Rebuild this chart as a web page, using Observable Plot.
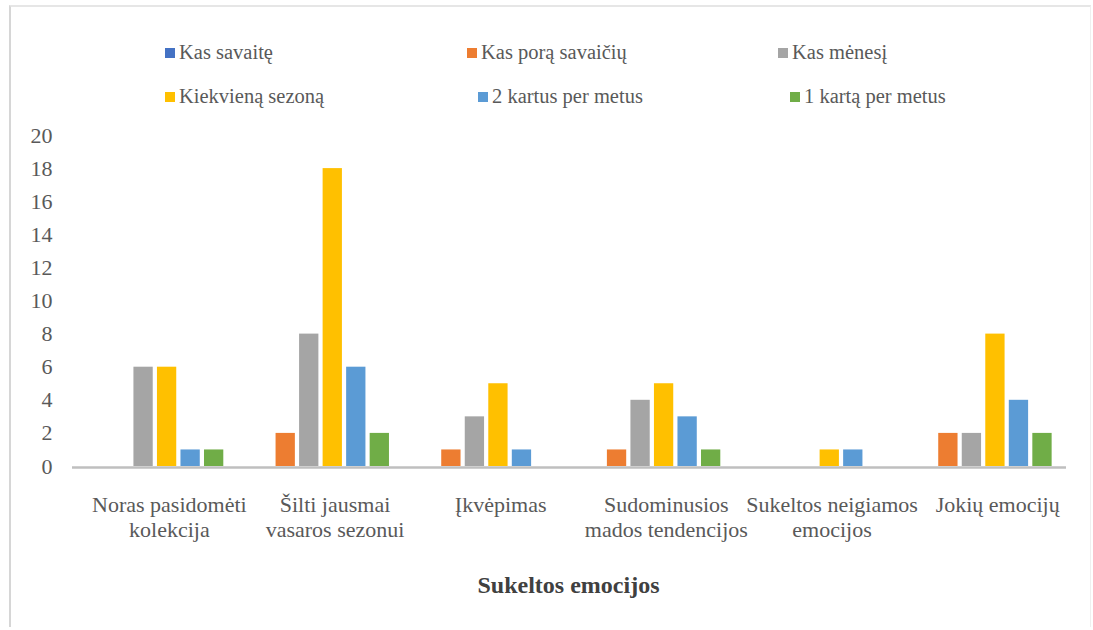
<!DOCTYPE html>
<html>
<head>
<meta charset="utf-8">
<script src="https://cdn.jsdelivr.net/npm/d3@7"></script>
<script src="https://cdn.jsdelivr.net/npm/@observablehq/plot@0.6"></script>
<style>
  html, body { margin: 0; padding: 0; background: #fff; }
  #chart {
    position: relative; width: 1093px; height: 630px; overflow: hidden;
    font-family: "Liberation Serif", Tinos, "Times New Roman", Times, serif; color: #595959;
  }
  #frame {
    position: absolute; left: 9px; top: 5px; width: 1082px; height: 622px;
    border-left: 2px solid #d6d6d6; border-top: 2px solid #e6e6e6;
    border-right: 1px solid #efefef; box-sizing: border-box;
  }
  .lg { position: absolute; display: flex; align-items: center; font-size: 20.5px; white-space: nowrap; }
  .lg span.sw { display: inline-block; width: 10px; height: 10px; margin-right: 4px; }
  #plot { position: absolute; left: 0; top: 110px; }
  #xtitle {
    position: absolute; top: 572px; left: 0; width: 1137px; text-align: center;
    font-size: 24px; font-weight: bold; color: #404040;
  }
</style>
</head>
<body>
<div id="chart">
  <div id="frame"></div>
  <div id="legend"></div>
  <div id="plot"></div>
  <div id="xtitle"></div>
</div>
<script>
// Categories on the x axis (emotions evoked) and their wrapped tick labels
const categories = [
  "Noras pasidomėti kolekcija",
  "Šilti jausmai vasaros sezonui",
  "Įkvėpimas",
  "Sudominusios mados tendencijos",
  "Sukeltos neigiamos emocijos",
  "Jokių emocijų"
];
const categoryLabels = [
  "Noras pasidomėti\nkolekcija",
  "Šilti jausmai\nvasaros sezonui",
  "Įkvėpimas",
  "Sudominusios\nmados tendencijos",
  "Sukeltos neigiamos\nemocijos",
  "Jokių emocijų"
];

// Series (how often) and their colours
const series = [
  "Kas savaitę",
  "Kas porą savaičių",
  "Kas mėnesį",
  "Kiekvieną sezoną",
  "2 kartus per metus",
  "1 kartą per metus"
];
const seriesColors = ["#4472C4", "#ED7D31", "#A5A5A5", "#FFC000", "#5B9BD5", "#70AD47"];

// Counts per series, one value per category
const kasSavaite       = [0, 0, 0, 0, 0, 0];
const kasPoraSavaiciu  = [0, 2, 1, 1, 0, 2];
const kasMenesi        = [6, 8, 3, 4, 0, 2];
const kiekvienaSezona  = [6, 18, 5, 5, 1, 8];
const duKartusPerMetus = [1, 6, 1, 3, 1, 4];
const vienaKartaPerMetus = [1, 2, 0, 1, 0, 2];
const seriesValues = [kasSavaite, kasPoraSavaiciu, kasMenesi, kiekvienaSezona, duKartusPerMetus, vienaKartaPerMetus];

const yTicks = [0, 2, 4, 6, 8, 10, 12, 14, 16, 18, 20];
const xTitle = "Sukeltos emocijos";

// Cluster layout inside each category slot (in category units)
const slotStep = 0.142;
const barWidth = 0.1165;
const groupOffset = (1 - (slotStep * (series.length - 1) + barWidth)) / 2;

const rows = [];
series.forEach((s, j) => {
  seriesValues[j].forEach((v, i) => {
    if (v > 0) {
      const x1 = i + groupOffset + j * slotStep;
      rows.push({category: categories[i], series: s, value: v, x1, x2: x1 + barWidth});
    }
  });
});

// Legend: two rows of three entries
const legendPos = [
  [165, 41], [467, 41], [778, 41],
  [165, 85], [478, 85], [790, 85]
];
const legend = document.getElementById("legend");
series.forEach((s, j) => {
  const d = document.createElement("div");
  d.className = "lg";
  d.style.left = legendPos[j][0] + "px";
  d.style.top = legendPos[j][1] + "px";
  d.innerHTML = `<span class="sw" style="background:${seriesColors[j]}"></span>${s}`;
  legend.appendChild(d);
});

const chart = Plot.plot({
  width: 1093,
  height: 500,
  marginTop: 25,
  marginBottom: 144,
  marginLeft: 72,
  marginRight: 27,
  style: {fontFamily: "'Liberation Serif', Tinos, 'Times New Roman', Times, serif", fontSize: "22px", color: "#595959", background: "transparent"},
  x: {domain: [0, categories.length], axis: null},
  y: {domain: [0, 20], axis: null},
  color: {domain: series, range: seriesColors},
  marks: [
    Plot.rectY(rows, {x1: "x1", x2: "x2", y1: 0, y2: "value", fill: "series"}),
    Plot.ruleY([0], {stroke: "#BFBFBF", strokeWidth: 2.5, dy: 1}),
    Plot.axisY(yTicks, {tickSize: 0, tickPadding: 20, label: null, fill: "#595959"}),
    Plot.axisX(categories.map((c, i) => i + 0.5), {
      tickSize: 0, tickPadding: 28, label: null, lineHeight: 1.14, dx: 14, fill: "#595959",
      tickFormat: d => categoryLabels[Math.floor(d)]
    })
  ]
});
document.getElementById("plot").appendChild(chart);
document.getElementById("xtitle").textContent = xTitle;
</script>
</body>
</html>
